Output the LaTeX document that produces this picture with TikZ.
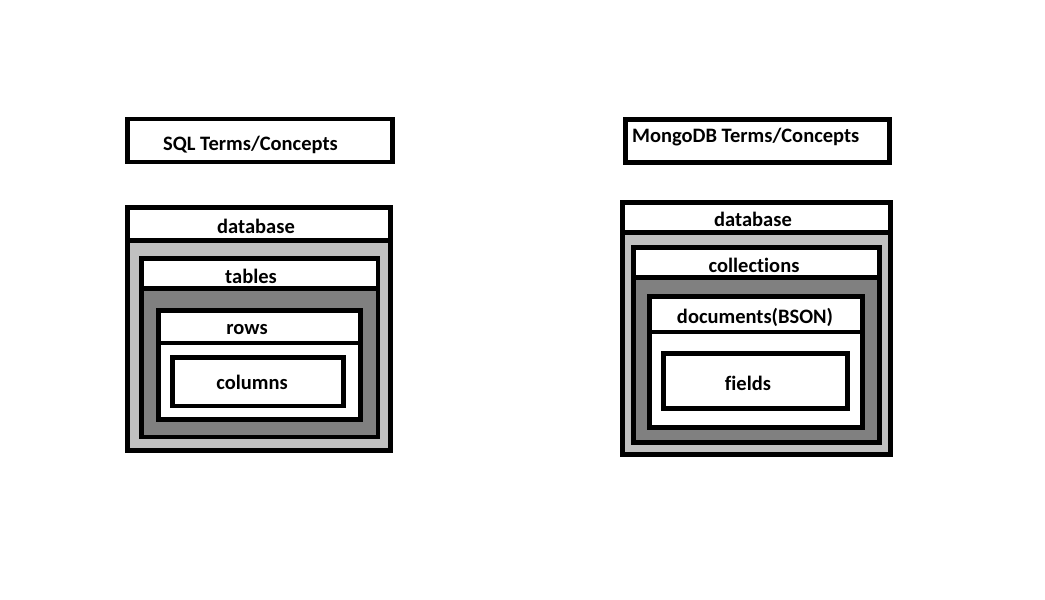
\documentclass[tikz,border=0pt]{standalone}
\usepackage{fontspec}
\setmainfont[Ligatures=NoCommon]{Carlito}
\definecolor{lgray}{HTML}{C0C0C0}
\definecolor{dgray}{HTML}{808080}
\begin{document}
\begin{tikzpicture}[x=1pt,y=-1pt,
  frame/.style={draw=black,line width=4.5pt},
  lbl/.style={font=\fontsize{20.5}{23}\selectfont\bfseries,inner sep=0pt,anchor=center,yshift=-2pt}]
\useasboundingbox (0,0) rectangle (1045,600);
% ---------- SQL ----------
\draw[frame,fill=white] (127.5,119) rectangle (392.5,162);
\node[lbl] (sqlt) at (250.5,142.5) {SQL Terms/Concepts};
% database
\draw[frame,fill=lgray] (127.5,207.5) rectangle (390.5,450.5);
\draw[frame,fill=white] (127.5,207.5) rectangle (390.5,240.5);
\node[lbl] (sqldb) at (256,224.5) {database};
% tables
\draw[frame,fill=dgray] (141.5,258.5) rectangle (378,437);
\draw[frame,fill=white] (141.5,258.5) rectangle (378,288.5);
\node[lbl] (sqltab) at (251,274) {tables};
% rows
\draw[frame,fill=white] (158.5,310.5) rectangle (360.5,419.5);
\draw[frame] (158.5,343) -- (360.5,343);
\node[lbl] (sqlrow) at (247,327.5) {rows};
% columns
\draw[frame,fill=white] (172.5,357.5) rectangle (343.5,406);
\node[lbl] (sqlcol) at (252,380.5) {columns};
% ---------- MongoDB ----------
\draw[frame,fill=white] (625.5,119.5) rectangle (889.5,162.5);
\node[lbl,anchor=west] (mgt) at (632,135.5) {MongoDB Terms/Concepts};
% database
\draw[frame,fill=lgray] (622.5,202.5) rectangle (890.5,454.5);
\draw[frame,fill=white] (622.5,202.5) rectangle (890.5,232.5);
\node[lbl] (mgdb) at (753,217) {database};
% collections
\draw[frame,fill=dgray] (633.5,247.5) rectangle (879.5,442.5);
\draw[frame,fill=white] (633.5,247.5) rectangle (879.5,277.5);
\node[lbl] (mgcol) at (754,263.5) {collections};
% documents
\draw[frame,fill=white] (649.5,296.5) rectangle (862.5,427.5);
\draw[frame] (649.5,332) -- (862.5,332);
\node[lbl] (mgdoc) at (755,315.5) {documents(BSON)};
% fields
\draw[frame,fill=white] (663.5,353.5) rectangle (847.5,408.5);
\node[lbl] (mgfld) at (748,381) {fields};
\end{tikzpicture}
\end{document}
